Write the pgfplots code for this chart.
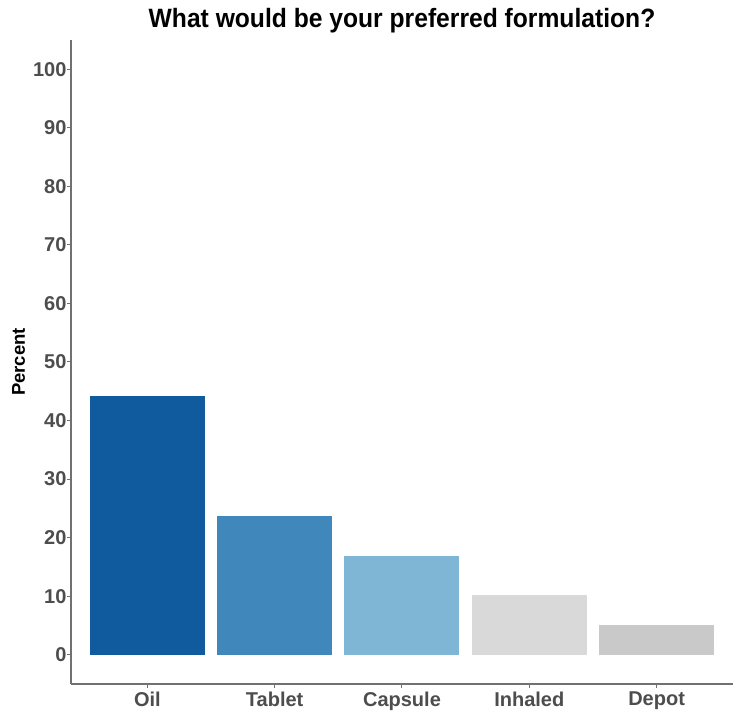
\documentclass[border=0pt]{standalone}
\usepackage{fontspec}
\setmainfont{Liberation Sans}
\newfontfamily\titlefont[FakeStretch=0.93]{Liberation Sans}
\usepackage{pgfplots}
\pgfplotsset{compat=1.18}
\definecolor{cOil}{HTML}{0F5B9E}
\definecolor{cTablet}{HTML}{4087BC}
\definecolor{cCapsule}{HTML}{80B6D5}
\definecolor{cInhaled}{HTML}{D9D9D9}
\definecolor{cDepot}{HTML}{C9C9C9}
\definecolor{tickgray}{HTML}{4D4D4D}
\begin{document}
\begin{tikzpicture}
\useasboundingbox (-71pt,-33pt) rectangle (669pt,684pt);
\begin{axis}[
    at={(0,0)}, anchor=south west,
    scale only axis,
    width=662pt, height=644pt,
    xmin=0.4, xmax=5.6,
    ymin=-5, ymax=105,
    xtick={1,2,3,4,5},
    xticklabels={Oil,Tablet,Capsule,Inhaled,Depot},
    ytick={0,10,...,100},
    axis x line*=bottom, axis y line*=left,
    axis line style={draw=tickgray!80, line width=1.2pt, -},
    tick style={draw=tickgray!80, line width=1pt},
    tick align=outside,
    major tick length=4pt,
    ticklabel style={font=\fontsize{20}{21}\selectfont\bfseries, text=tickgray},
    /pgf/number format/assume math mode=true,
    yticklabel style={xshift=3pt},
    ylabel={Percent},
    ylabel style={font=\fontsize{18.5}{20}\selectfont\bfseries, at={(axis description cs:-0.0642,0.5)}, anchor=south},
    title={What would be your preferred formulation?},
    title style={font=\titlefont\fontsize{26.5}{28}\selectfont\bfseries, at={(axis description cs:0.5,1)}, anchor=base, yshift=6pt},
    clip=false,
]
\addplot[fill=cOil, draw=none, ybar, bar width=115pt] coordinates {(1,44.2)};
\addplot[fill=cTablet, draw=none, ybar, bar width=115pt] coordinates {(2,23.7)};
\addplot[fill=cCapsule, draw=none, ybar, bar width=115pt] coordinates {(3,16.9)};
\addplot[fill=cInhaled, draw=none, ybar, bar width=115pt] coordinates {(4,10.2)};
\addplot[fill=cDepot, draw=none, ybar, bar width=115pt] coordinates {(5,5.1)};
\end{axis}
\end{tikzpicture}
\end{document}
